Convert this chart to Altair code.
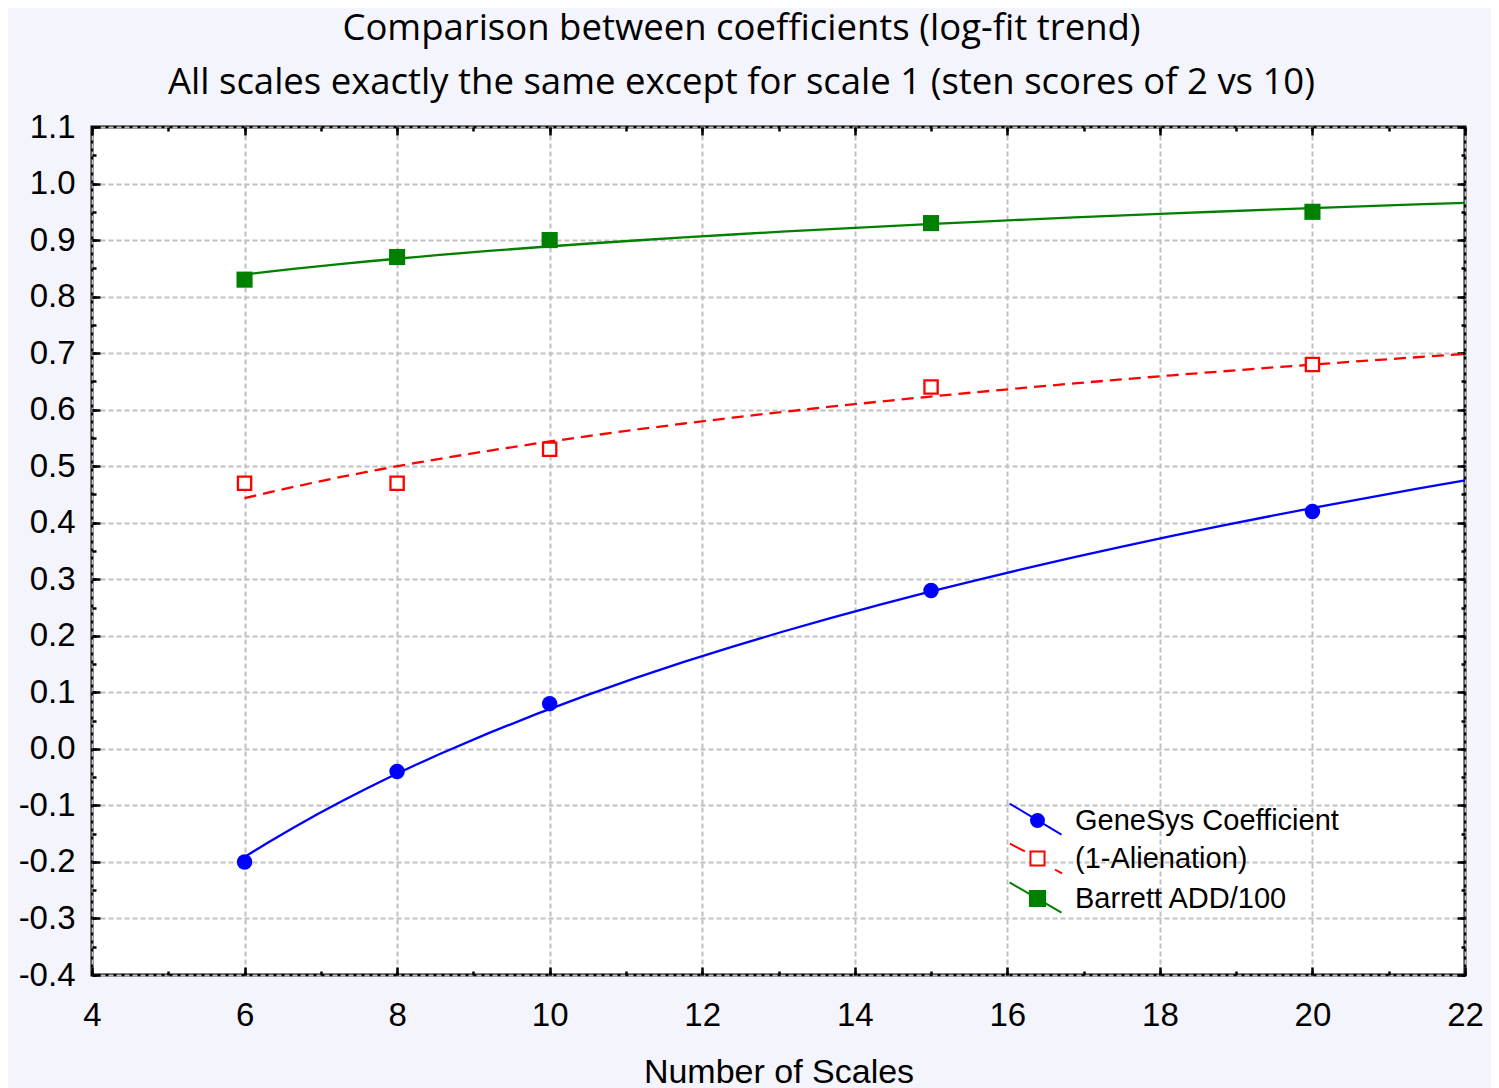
import altair as alt
import pandas as pd

# ---------------- data ----------------
scales = [6, 8, 10, 15, 20]
genesys = [-0.20, -0.04, 0.08, 0.28, 0.42]
alienation = [0.47, 0.47, 0.53, 0.64, 0.68]
barrett = [0.83, 0.87, 0.90, 0.93, 0.95]
series_names = ["GeneSys Coefficient", "(1-Alienation)", "Barrett ADD/100"]

x_major = [4, 6, 8, 10, 12, 14, 16, 18, 20, 22]
x_minor = [4, 5, 6, 7, 8, 9, 10, 11, 12, 13, 14, 15, 16, 17, 18, 19, 20, 21, 22]
y_major = [-0.4, -0.3, -0.2, -0.1, 0.0, 0.1, 0.2, 0.3, 0.4, 0.5, 0.6, 0.7,
           0.8, 0.9, 1.0, 1.1]
y_minor = [-0.4, -0.35, -0.3, -0.25, -0.2, -0.15, -0.1, -0.05, 0.0, 0.05,
           0.1, 0.15, 0.2, 0.25, 0.3, 0.35, 0.4, 0.45, 0.5, 0.55, 0.6, 0.65,
           0.7, 0.75, 0.8, 0.85, 0.9, 0.95, 1.0, 1.05, 1.1]

title_line1 = "Comparison between coefficients (log-fit trend)"
title_line2 = "All scales exactly the same except for scale 1 (sten scores of 2 vs 10)"
x_title = "Number of Scales"

rows = []
for name, vals in zip(series_names, [genesys, alienation, barrett]):
    for s, v in zip(scales, vals):
        rows.append({"series": name, "x": s, "y": v})
df = pd.DataFrame(rows)

# ---------------- styling ----------------
BLUE, RED, GREEN = "#0000ff", "#ff0000", "#008000"
AX_FONT = "Liberation Sans"
TITLE_FONT = "Open Sans"
xs = alt.Scale(domain=[4, 22], nice=False, zero=False)
ys = alt.Scale(domain=[-0.4, 1.1], nice=False, zero=False)

y_label_expr = ("datum.value < -0.001 ? '-' + format(-datum.value, '.1f') "
                ": format(abs(datum.value), '.1f')")

common_tick = dict(domain=False, tickColor="black", tickWidth=2.5)


def ax(orient, values, major, labels=False, grid=False, **kw):
    size = 8 if major else 4
    d = dict(orient=orient, values=values, offset=-size, tickSize=size,
             labels=labels, grid=grid, title=None, **common_tick)
    if grid:
        d.update(gridColor="#c0c0c0", gridDash=[5, 3], gridWidth=2)
    if labels:
        d.update(labelFont=AX_FONT, labelFontSize=33, labelColor="black",
                 labelFlush=False, labelOverlap=False)
    d.update(kw)
    return alt.Axis(**d)


bottom_major = ax("bottom", x_major, True, labels=True, grid=True,
                  labelPadding=24, title=x_title, titleFont=AX_FONT,
                  titleFontSize=34, titleFontWeight="normal",
                  titleColor="black", titlePadding=23)
bottom_minor = ax("bottom", x_minor, False)
top_major = ax("top", x_major, True)
top_minor = ax("top", x_minor, False)
left_major = ax("left", y_major, True, labels=True, grid=True,
                labelPadding=17, labelExpr=y_label_expr)
left_minor = ax("left", y_minor, False)
right_major = ax("right", y_major, True)
right_minor = ax("right", y_minor, False)


def enc(xaxis, yaxis):
    return dict(x=alt.X("x:Q", scale=xs, axis=xaxis),
                y=alt.Y("y:Q", scale=ys, axis=yaxis))


def trend(name, color, xaxis, yaxis, dash=None):
    mk = dict(color=color, strokeWidth=2.3)
    if dash:
        mk["strokeDash"] = dash
    return (alt.Chart(df)
            .transform_filter(alt.datum.series == name)
            .transform_regression("x", "y", method="log", extent=[6, 22])
            .mark_line(**mk)
            .encode(**enc(xaxis, yaxis)))


line_blue = trend(series_names[0], BLUE, bottom_major, left_major)
line_red = trend(series_names[1], RED, bottom_minor, left_minor, dash=[12, 7])
line_green = trend(series_names[2], GREEN, top_major, right_major)

pts_blue = (alt.Chart(df).transform_filter(alt.datum.series == series_names[0])
            .mark_point(shape="circle", filled=True, color=BLUE, size=240, opacity=1)
            .encode(**enc(top_minor, right_minor)))
pts_red = (alt.Chart(df).transform_filter(alt.datum.series == series_names[1])
           .mark_point(shape="square", fill="white", stroke=RED, strokeWidth=2.3,
                       size=175, opacity=1)
           .encode(**enc(None, None)))
pts_green = (alt.Chart(df).transform_filter(alt.datum.series == series_names[2])
             .mark_point(shape="square", filled=True, color=GREEN, size=260, opacity=1)
             .encode(**enc(None, None)))

# legend symbols: diagonal line through marker (unit coords, scaled by sqrt(size)/2)
circ = "M0.36,0A0.36,0.36 0 1,1 -0.36,0A0.36,0.36 0 1,1 0.36,0Z"
path_blue = "M-1.55,-0.94L1.33,0.78" + circ
path_red = ("M-1.53,-0.83L-0.7,-0.39M0.97,0.61L1.36,0.83"
            "M-0.39,-0.39H0.39V0.39H-0.39Z")
path_green = "M-1.55,-0.89L1.33,0.78M-0.42,-0.42H0.42V0.42H-0.42Z"

legend = alt.Legend(orient="none", legendX=926, legendY=674, title=None,
                    symbolSize=1300, symbolStrokeWidth=2, symbolOpacity=1,
                    labelFont=AX_FONT, labelFontSize=29, labelColor="black",
                    labelOffset=18, labelLimit=0, rowPadding=0, padding=0)

legend_layer = (alt.Chart(df).transform_filter("false")
                .mark_point(filled=False, strokeWidth=2, opacity=1)
                .encode(x=alt.X("x:Q", scale=xs, axis=None),
                        y=alt.Y("y:Q", scale=ys, axis=None),
                        color=alt.Color("series:N", legend=legend,
                                        scale=alt.Scale(domain=series_names,
                                                        range=[BLUE, RED, GREEN])),
                        fill=alt.Fill("series:N", legend=legend,
                                      scale=alt.Scale(domain=series_names,
                                                      range=[BLUE, "white", GREEN])),
                        shape=alt.Shape("series:N", legend=legend,
                                        scale=alt.Scale(domain=series_names,
                                                        range=[path_blue, path_red, path_green]))))

chart = (alt.layer(line_blue, line_red, line_green, pts_blue, pts_red, pts_green,
                   legend_layer)
         .resolve_axis(x="independent", y="independent")
         .properties(
             width=1373, height=848,
             autosize=alt.AutoSizeParams(type="none"),
             padding={"left": 84, "top": 119, "right": 26, "bottom": 113},
             background="#f4f4fc",
             title=alt.TitleParams(text=title_line1, subtitle=title_line2,
                                   font=TITLE_FONT, fontSize=36.5,
                                   fontWeight="normal", color="black",
                                   subtitleFont=TITLE_FONT, subtitleFontSize=36.5,
                                   subtitleFontWeight="normal", subtitleColor="black",
                                   subtitlePadding=17,
                                   anchor="middle", frame="group", dx=-37,
                                   offset=10, baseline="top"))
         .configure_view(fill="white", stroke="black", strokeWidth=3))

chart.save("out.html", embed_options={"renderer": "svg", "actions": False})
